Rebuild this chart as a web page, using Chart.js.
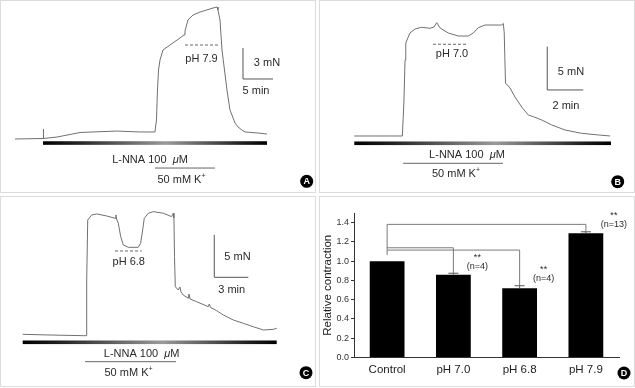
<!DOCTYPE html>
<html>
<head>
<meta charset="utf-8">
<script src="https://cdn.jsdelivr.net/npm/chart.js@4.4.1/dist/chart.umd.min.js"></script>
<style>
  body { margin: 0; background: #fff; width: 635px; height: 388px; position: relative; overflow: hidden; }
  .panel { position: absolute; border: 1px solid #dcdcdc; box-sizing: border-box; }
  .inner { position: relative; width: 100%; height: 100%; }
</style>
</head>
<body>
<div class="panel" style="left:0;top:0;width:316px;height:193px"><div class="inner"><canvas id="chartA"></canvas></div></div>
<div class="panel" style="left:319px;top:0;width:316px;height:193px"><div class="inner"><canvas id="chartB"></canvas></div></div>
<div class="panel" style="left:0;top:196px;width:316px;height:191px"><div class="inner"><canvas id="chartC"></canvas></div></div>
<div class="panel" style="left:319px;top:196px;width:316px;height:191px"><div class="inner"><canvas id="chartD"></canvas></div></div>
<script>
// traces: time in min, tension in mN (above resting baseline)
const timeA = [0, 4.67, 4.67, 4.83, 7.0, 9.17, 10.83, 14.17, 17.0, 20.83, 23.33, 23.58, 23.75, 23.92, 24.17, 24.67, 25.83, 27.5, 28.17, 28.33, 28.83, 29.67, 30.83, 33.0, 33.67, 33.83, 34.17, 34.5, 35.33, 35.83, 36.67, 37.17, 37.83, 38.33, 40.5, 42.0];
const forceA = [0, 0.05, 0.97, 0.05, 0.19, 0.44, 0.63, 0.71, 0.77, 0.68, 0.68, 1.84, 4.74, 6.68, 7.65, 8.62, 9.10, 9.78, 10.07, 10.45, 11.52, 12.0, 12.29, 12.68, 12.78, 12.49, 11.52, 8.62, 4.74, 2.81, 1.55, 1.16, 0.87, 0.68, 0.58, 0.48];

const timeB = [0, 2.67, 2.76, 2.82, 2.86, 3.09, 3.37, 3.74, 4.21, 4.43, 4.58, 4.76, 5.22, 5.78, 6.33, 6.61, 6.89, 7.26, 8.19, 8.28, 8.33, 8.40, 8.65, 8.93, 9.30, 9.67, 9.94, 10.41, 10.97, 11.71, 12.63, 13.56, 14.21];
const forceB = [0, 0, 4.15, 8.77, 10.73, 11.88, 12.34, 12.54, 12.42, 12.57, 13.07, 12.46, 11.88, 11.53, 11.53, 11.88, 12.49, 12.80, 12.80, 12.98, 11.88, 6.11, 5.54, 4.50, 3.34, 2.42, 2.23, 1.85, 1.27, 0.69, 0.31, 0.12, 0];

const timeC = [0, 2.41, 5.35, 5.59, 5.65, 5.74, 6.09, 6.53, 7.41, 8.15, 8.23, 8.28, 8.44, 8.65, 8.88, 9.32, 10.20, 10.41, 10.59, 10.73, 11.09, 11.53, 12.41, 13.15, 13.29, 13.35, 13.40, 13.47, 13.73, 13.88, 13.97, 14.17, 14.62, 14.68, 14.77, 15.36, 16.38, 16.47, 16.58, 17.12, 17.71, 18.59, 19.47, 20.35, 21.24, 22.12, 22.42];
const forceC = [0.08, 0, -0.08, -0.08, 6.49, 13.58, 14.17, 14.29, 14.05, 13.78, 14.17, 13.70, 13.19, 11.61, 10.63, 10.35, 10.35, 10.83, 12.40, 13.78, 14.37, 14.56, 14.37, 13.97, 14.37, 13.81, 9.24, 5.70, 5.31, 5.67, 5.08, 4.72, 4.33, 4.84, 4.25, 3.93, 3.34, 3.66, 3.25, 2.87, 2.36, 1.77, 1.38, 0.98, 0.59, 0.67, 0.79];

// panel D
const groups = ["Control", "pH 7.0", "pH 6.8", "pH 7.9"];
const contraction = [1.0, 0.86, 0.72, 1.29];
const contractionErr = [0, 0.015, 0.025, 0.015];
const nLabels = ["", "(n=4)", "(n=4)", "(n=13)"];
const bracketLevel = [null, 1.139, 1.115, 1.382];
const yTicks = [0, 0.2, 0.4, 0.6, 0.8, 1.0, 1.2, 1.4];

const FONT = "'Liberation Sans', Arial, sans-serif";
Chart.defaults.font.family = FONT;

function drawParts(ctx, parts, cx, cy) {
  let w = 0;
  parts.forEach((p) => { ctx.font = p.font; p.w = ctx.measureText(p.t).width; w += p.w; });
  let x = cx - w / 2;
  ctx.textAlign = "left";
  ctx.textBaseline = "middle";
  parts.forEach((p) => { ctx.font = p.font; ctx.fillText(p.t, x, cy + (p.dy || 0)); x += p.w; });
}

function letter(ctx, ch, x, y) {
  ctx.beginPath();
  ctx.arc(x, y, 6.5, 0, Math.PI * 2);
  ctx.fillStyle = "#000";
  ctx.fill();
  ctx.fillStyle = "#fff";
  ctx.font = "bold 9px " + FONT;
  ctx.textAlign = "center";
  ctx.textBaseline = "middle";
  ctx.fillText(ch, x, y + 0.5);
}

// drug bars, dashed pH marks, scale bars
function notesPlugin(n) {
  return {
    id: "notes",
    afterDatasetsDraw(chart) {
      const ctx = chart.ctx;
      const X = (v) => chart.scales.x.getPixelForValue(v);
      const Y = (v) => chart.scales.y.getPixelForValue(v);
      ctx.save();
      // L-NNA bar
      const x0 = X(n.drug[0]), x1 = X(n.drug[1]), yb = Y(n.drug[2]);
      const g = ctx.createLinearGradient(x0, 0, x1, 0);
      g.addColorStop(0, "#000");
      g.addColorStop(0.15, "#222");
      g.addColorStop(0.55, "#9a9a9a");
      g.addColorStop(0.88, "#222");
      g.addColorStop(1, "#000");
      ctx.fillStyle = g;
      ctx.fillRect(x0, yb - 1.8, x1 - x0, 3.6);
      // K+ line
      ctx.strokeStyle = "#666";
      ctx.lineWidth = 1;
      ctx.beginPath();
      ctx.moveTo(X(n.k[0]), Y(n.k[2]));
      ctx.lineTo(X(n.k[1]), Y(n.k[2]));
      ctx.stroke();
      // pH dashes
      ctx.setLineDash([3, 2]);
      ctx.beginPath();
      ctx.moveTo(X(n.dash[0]), Y(n.dash[2]));
      ctx.lineTo(X(n.dash[1]), Y(n.dash[2]));
      ctx.stroke();
      ctx.setLineDash([]);
      // scale bar
      const sx = X(n.bar[0]), sy = Y(n.bar[1]);
      ctx.strokeStyle = "#555";
      ctx.beginPath();
      ctx.moveTo(sx, Y(n.bar[1] + n.mN));
      ctx.lineTo(sx, sy);
      ctx.lineTo(X(n.bar[0] + n.min), sy);
      ctx.stroke();
      // texts
      ctx.fillStyle = "#2a2a2a";
      const f11 = "11px " + FONT;
      drawParts(ctx, [{ t: "L-NNA 100  ", font: f11 }, { t: "μ", font: "italic " + f11 }, { t: "M", font: f11 }], X(n.drugText[0]), Y(n.drugText[1]));
      drawParts(ctx, [{ t: "50 mM K", font: f11 }, { t: "+", font: "7px " + FONT, dy: -4 }], X(n.kText[0]), Y(n.kText[1]));
      drawParts(ctx, [{ t: n.ph, font: f11 }], X(n.phText[0]), Y(n.phText[1]));
      drawParts(ctx, [{ t: n.mN + " mN", font: f11 }], X(n.mNText[0]), Y(n.mNText[1]));
      drawParts(ctx, [{ t: n.min + " min", font: f11 }], X(n.minText[0]), Y(n.minText[1]));
      letter(ctx, n.letter, n.letterAt[0], n.letterAt[1]);
      ctx.restore();
    },
  };
}

function traceChart(id, time, force, xr, yr, notes) {
  new Chart(document.getElementById(id), {
    type: "line",
    data: {
      datasets: [{
        data: time.map((t, i) => ({ x: t, y: force[i] })),
        borderColor: "#707070",
        borderWidth: 1,
        pointRadius: 0,
        tension: 0,
      }],
    },
    options: {
      animation: false,
      responsive: true,
      maintainAspectRatio: false,
      layout: { padding: 0 },
      plugins: { legend: { display: false }, tooltip: { enabled: false } },
      scales: {
        x: { type: "linear", display: false, min: xr[0], max: xr[1] },
        y: { type: "linear", display: false, min: yr[0], max: yr[1] },
      },
    },
    plugins: [notesPlugin(notes)],
  });
}

traceChart("chartA", timeA, forceA, [-2.333, 50], [-5.13, 13.36], {
  drug: [4.67, 42.0, -0.39], k: [23.33, 33.33, -2.81],
  drugText: [22.5, -2.03], kText: [27.75, -3.97],
  dash: [28.33, 33.83, 9.1], ph: "pH 7.9", phText: [31.08, 7.74],
  bar: [38.0, 5.81], min: 5, mN: 3, mNText: [42.0, 7.36], minText: [40.17, 4.65],
  letter: "A", letterAt: [305.7, 180.3],
});

traceChart("chartB", timeB, forceB, [-1.906, 15.54], [-6.46, 15.57], {
  drug: [0, 14.26, -0.84], k: [2.71, 8.26, -3.15],
  drugText: [6.26, -2.19], kText: [5.65, -4.38],
  dash: [4.37, 6.26, 10.58], ph: "pH 7.0", phText: [5.43, 9.46],
  bar: [10.72, 5.31], min: 2, mN: 5, mNText: [12.04, 7.38], minText: [11.76, 3.46],
  letter: "B", letterAt: [297.7, 180.7],
});

traceChart("chartC", timeC, forceC, [-1.915, 25.8], [-6.02, 16.29], {
  drug: [0, 22.42, -0.86], k: [5.5, 13.53, -3.15],
  drugText: [10.5, -2.24], kText: [9.34, -4.45],
  dash: [8.15, 10.5, 9.92], ph: "pH 6.8", phText: [9.36, 8.65],
  bar: [16.91, 6.81], min: 3, mN: 5, mNText: [18.96, 9.24], minText: [18.45, 5.31],
  letter: "C", letterAt: [305, 175.7],
});

// error caps, significance brackets, n labels
const sigPlugin = {
  id: "sig",
  afterDatasetsDraw(chart) {
    const ctx = chart.ctx;
    const meta = chart.getDatasetMeta(0);
    const Y = (v) => chart.scales.y.getPixelForValue(v);
    ctx.save();
    ctx.lineWidth = 1;
    ctx.strokeStyle = "#555";
    contraction.forEach((v, i) => {
      if (!contractionErr[i]) return;
      const x = meta.data[i].x;
      const yt = Y(v + contractionErr[i]);
      ctx.beginPath();
      ctx.moveTo(x, Y(v));
      ctx.lineTo(x, yt);
      ctx.moveTo(x - 5, yt);
      ctx.lineTo(x + 5, yt);
      ctx.stroke();
    });
    const x0 = meta.data[0].x;
    ctx.strokeStyle = "#7a7a7a";
    ctx.beginPath();
    ctx.moveTo(x0, Y(1.063));
    ctx.lineTo(x0, Y(Math.max(...bracketLevel.filter((b) => b !== null))));
    bracketLevel.forEach((b, i) => {
      if (b === null) return;
      const x = meta.data[i].x;
      ctx.moveTo(x0, Y(b));
      ctx.lineTo(x, Y(b));
      ctx.lineTo(x, Y(contraction[i] + contractionErr[i]));
    });
    ctx.stroke();
    ctx.fillStyle = "#2a2a2a";
    ctx.textAlign = "center";
    ctx.textBaseline = "middle";
    nLabels.forEach((t, i) => {
      if (!t) return;
      const x = meta.data[i].x + (t.length > 5 ? 28 : 24);
      const y = Y(contraction[i] + contractionErr[i]) - 7;
      ctx.font = "9px " + FONT;
      ctx.fillText(t, x, y);
      ctx.fillText("**", x, y - 9);
    });
    letter(ctx, "D", chart.width - 10, chart.height - 13);
    ctx.restore();
  },
};

new Chart(document.getElementById("chartD"), {
  type: "bar",
  data: {
    labels: groups,
    datasets: [{ data: contraction, backgroundColor: "#000", barPercentage: 0.525, categoryPercentage: 1 }],
  },
  options: {
    animation: false,
    responsive: true,
    maintainAspectRatio: false,
    layout: { padding: { top: 16, right: 15, bottom: 0, left: 0 } },
    plugins: { legend: { display: false }, tooltip: { enabled: false } },
    scales: {
      x: {
        grid: { display: true, drawOnChartArea: false, drawTicks: false },
        border: { color: "#333" },
        ticks: { color: "#222", font: { size: 11.5 }, padding: 5 },
        afterFit(s) { s.height = 28.5; },
      },
      y: {
        min: 0,
        max: 1.5,
        afterBuildTicks(s) { s.ticks = yTicks.map((v) => ({ value: v })); },
        ticks: { color: "#333", font: { size: 9 }, padding: 2, callback: (v) => v.toFixed(1) },
        grid: { drawOnChartArea: false, tickLength: 3, color: "#333" },
        border: { color: "#333" },
        title: { display: true, text: "Relative contraction", color: "#222", font: { size: 11.5 }, padding: { top: 1, bottom: 0 } },
        afterFit(s) { s.width = 34; },
      },
    },
  },
  plugins: [sigPlugin],
});
</script>
</body>
</html>
